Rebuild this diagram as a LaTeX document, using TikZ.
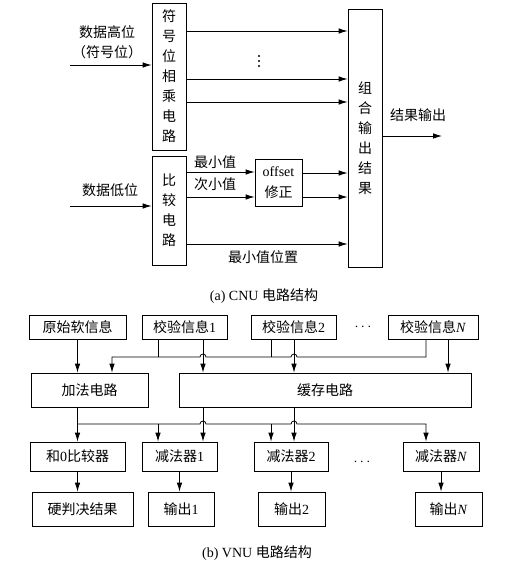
\documentclass[tikz,border=0pt]{standalone}
\usepackage{fontspec}
\setmainfont{Liberation Serif}
\newfontfamily\cjk{Noto Sans CJK SC}
\usetikzlibrary{arrows.meta}

\begin{document}
\begin{tikzpicture}[x=1pt,y=-1pt,line width=0.8pt,
  font=\fontsize{14}{20}\selectfont,
  box/.style={draw,inner sep=0pt,align=center},
  arr/.style={-{Latex[length=9pt,width=5.5pt]}}]
\useasboundingbox (0,0) rectangle (529,570);

% (a) CNU
\node[box,minimum width=34,minimum height=147] (sgn) at (169,76.5) {\cjk 符\\\cjk 号\\\cjk 位\\\cjk 相\\\cjk 乘\\\cjk 电\\\cjk 路};
\node[box,minimum width=34,minimum height=109] (cmpc) at (169,210.5) {\cjk 比\\\cjk 较\\\cjk 电\\\cjk 路};
\node[box,minimum width=34,minimum height=258] (comb) at (365,138) {\cjk 组\\\cjk 合\\\cjk 输\\\cjk 出\\\cjk 结\\\cjk 果};
\node[box,minimum width=47,minimum height=47,font=\fontsize{14}{21}\selectfont] (offs) at (278.5,182.5) {offset\\\cjk 修正};

\coordinate (inH) at (70,65);
\coordinate (inL) at (70,206);
\coordinate (res) at (442,136);
\draw[arr] (inH) -- (inH -| sgn.west);
\draw[arr] (inL) -- (inL -| cmpc.west);
\node at (107,32) {\cjk 数据高位};
\node at (107,52) {\cjk （符号位）};
\node at (110,190) {\cjk 数据低位};

\foreach \y in {31,79,102}
  \draw[arr] (sgn.east |- 0,\y) -- (comb.west |- 0,\y);
\foreach \y in {56,61,66}
  \fill (259,\y) circle (1.1pt);

\draw[arr] (cmpc.east |- 0,172) -- (offs.west |- 0,172);
\draw[arr] (cmpc.east |- 0,197) -- (offs.west |- 0,197);
\node at (215,162) {\cjk 最小值};
\node at (215,184) {\cjk 次小值};
\draw[arr] (offs.east |- 0,173) -- (comb.west |- 0,173);
\draw[arr] (offs.east |- 0,197) -- (comb.west |- 0,197);
\draw[arr] (cmpc.east |- 0,244) -- (comb.west |- 0,244);
\node at (263,257) {\cjk 最小值位置};

\draw[arr] (comb.east |- res) -- (res);
\node at (418,115) {\cjk 结果输出};

\node at (264,296) {(a) CNU {\cjk 电路结构}};

% (b) VNU
\node[box,minimum width=97,minimum height=24] (yuan) at (77.5,327) {\cjk 原始软信息};
\node[box,minimum width=85,minimum height=24] (ck1) at (184.5,327) {{\cjk 校验信息}1};
\node[box,minimum width=85,minimum height=24] (ck2) at (293.5,327) {{\cjk 校验信息}2};
\node at (363,327) {$\cdots$};
\node[box,minimum width=90,minimum height=24] (ckN) at (433,327) {{\cjk 校验信息}\textit{N}};

\node[box,minimum width=117,minimum height=34] (add) at (89.5,390) {\cjk 加法电路};
\node[box,minimum width=292,minimum height=34] (buf) at (325,390) {\cjk 缓存电路};

\node[box,minimum width=95,minimum height=29] (cmp0) at (77.5,456.5) {{\cjk 和}0{\cjk 比较器}};
\node[box,minimum width=75,minimum height=29] (sub1) at (179.5,456.5) {{\cjk 减法器}1};
\node[box,minimum width=74,minimum height=29] (sub2) at (291,456.5) {{\cjk 减法器}2};
\node at (362,462) {$\cdots$};
\node[box,minimum width=76,minimum height=29] (subN) at (441,456.5) {{\cjk 减法器}\textit{N}};

\node[box,minimum width=101,minimum height=34] (hard) at (82.5,509) {\cjk 硬判决结果};
\node[box,minimum width=66,minimum height=34] (out1) at (181,509) {{\cjk 输出}1};
\node[box,minimum width=67,minimum height=34] (out2) at (291.5,509) {{\cjk 输出}2};
\node[box,minimum width=67,minimum height=34] (outN) at (448.5,509) {{\cjk 输出}\textit{N}};

\coordinate (b1) at (0,357);
\coordinate (b2) at (0,424);
\coordinate (cL) at (112,0);
\coordinate (c1a) at (158,0);
\coordinate (c1b) at (203,0);
\coordinate (c2a) at (271,0);
\coordinate (c2b) at (294,0);
\coordinate (cNa) at (426,0);
\coordinate (cNb) at (448,0);

% row 1 to row 2
\draw[arr] (yuan.south) -- (yuan.south |- add.north);
\draw[arr] (cNa |- ckN.south) -- (cNa |- b1)
  -- ([xshift=3pt]c2b |- b1) arc[start angle=0,end angle=180,radius=3pt]
  -- ([xshift=3pt]c1b |- b1) arc[start angle=0,end angle=180,radius=3pt]
  -- (cL |- b1) -- (cL |- add.north);
\draw (c1a |- ck1.south) -- (c1a |- b1);
\draw (c2a |- ck2.south) -- (c2a |- b1);
\draw[arr] (c1b |- ck1.south) -- (c1b |- buf.north);
\draw[arr] (c2b |- ck2.south) -- (c2b |- buf.north);
\draw[arr] (cNb |- ckN.south) -- (cNb |- buf.north);

% row 2 to row 3
\draw[arr] (cmp0.north |- add.south) -- (cmp0.north);
\draw[arr] (cmp0.north |- b2)
  -- ([xshift=-3pt]c1b |- b2) arc[start angle=180,end angle=0,radius=3pt]
  -- ([xshift=-3pt]c2b |- b2) arc[start angle=180,end angle=0,radius=3pt]
  -- (cNa |- b2) -- (cNa |- subN.north);
\draw[arr] (c1a |- b2) -- (c1a |- sub1.north);
\draw[arr] (c2a |- b2) -- (c2a |- sub2.north);
\draw[arr] (c1b |- buf.south) -- (c1b |- sub1.north);
\draw[arr] (c2b |- buf.south) -- (c2b |- sub2.north);

% row 3 to row 4
\draw[arr] (cmp0.south) -- (cmp0.south |- hard.north);
\draw[arr] (sub1.south) -- (sub1.south |- out1.north);
\draw[arr] (sub2.south) -- (sub2.south |- out2.north);
\draw[arr] (subN.south) -- (subN.south |- outN.north);

\node at (257,553) {(b) VNU {\cjk 电路结构}};
\end{tikzpicture}
\end{document}
